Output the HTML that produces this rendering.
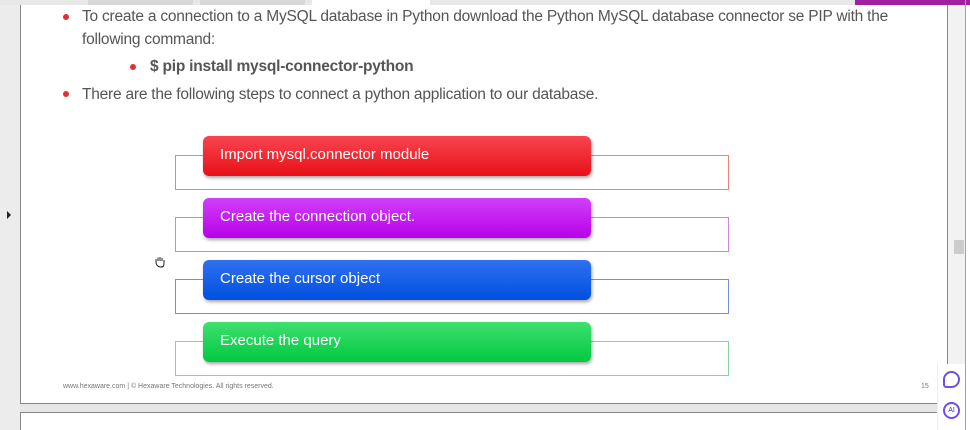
<!DOCTYPE html>
<html><head><meta charset="utf-8"><style>
*{margin:0;padding:0;box-sizing:border-box}
body{width:970px;height:430px;position:relative;overflow:hidden;background:#fff;font-family:"Liberation Sans",sans-serif}
.abs{position:absolute}
.t{color:#555;font-size:15.5px;letter-spacing:-0.22px;font-family:"Liberation Sans",sans-serif;white-space:nowrap}
.dot{position:absolute;width:6px;height:6px;border-radius:50%;background:#e03030}
.out{position:absolute;left:175px;width:554px;height:35px;border:1px solid}
.fill{position:absolute;left:203px;width:388px;height:40px;border-radius:6px;color:#fff;font-size:15px;padding:10px 0 0 17px;box-shadow:1px 2px 3px rgba(0,0,0,.35)}
</style></head><body>
<div class="abs" style="left:0;top:0;width:970px;height:5px;background:#e8e8e8"></div>
<div class="abs" style="left:88px;top:0;width:105px;height:5px;background:#d8d8d8"></div>
<div class="abs" style="left:200px;top:0;width:105px;height:5px;background:#d8d8d8"></div>
<div class="abs" style="left:312px;top:0;width:118px;height:5px;background:#fff"></div>
<div class="abs" style="left:855px;top:0;width:115px;height:5px;background:#a020a0"></div>
<div class="abs" style="left:0;top:5px;width:20px;height:425px;background:#ececec"></div>
<div class="abs" style="left:20px;top:5px;width:1px;height:398px;background:#888"></div>
<div class="abs" style="left:7px;top:211px;width:0;height:0;border-left:4px solid #222;border-top:4px solid transparent;border-bottom:4px solid transparent"></div>
<div class="abs" style="left:947px;top:5px;width:1px;height:398px;background:#888"></div>
<div class="abs" style="left:948px;top:5px;width:17px;height:425px;background:#f2f2f2"></div>
<div class="abs" style="left:954px;top:240px;width:10px;height:14px;background:#ccc"></div>
<div class="abs" style="left:965px;top:0;width:1px;height:430px;background:#f08080"></div>
<div class="abs" style="left:20px;top:403px;width:928px;height:10px;background:#e6e6e6;border-top:1px solid #888;border-bottom:1px solid #888"></div>
<div class="abs" style="left:20px;top:413px;width:1px;height:17px;background:#888"></div>

<div class="dot" style="left:63px;top:14px"></div>
<div class="abs t" style="left:82px;top:8px">To create a connection to a MySQL database in Python download the Python MySQL database connector se PIP with the</div>
<div class="abs t" style="left:82px;top:31px">following command:</div>
<div class="dot" style="left:130px;top:64px"></div>
<div class="abs t" style="left:150px;top:58px;font-weight:bold">$ pip install mysql-connector-python</div>
<div class="dot" style="left:63px;top:91px"></div>
<div class="abs t" style="left:82px;top:86px">There are the following steps to connect a python application to our database.</div>

<div class="out" style="top:155px;border-color:#f08080"></div>
<div class="fill" style="top:136px;background:linear-gradient(#f84550,#e81018)">Import mysql.connector module</div>
<div class="out" style="top:217px;border-color:#d080e0"></div>
<div class="fill" style="top:198px;background:linear-gradient(#d040f8,#b800e8)">Create the connection object.</div>
<div class="out" style="top:279px;border-color:#7090e0"></div>
<div class="fill" style="top:260px;background:linear-gradient(#3070f0,#0050e0)">Create the cursor object</div>
<div class="out" style="top:341px;border-color:#80d8a0"></div>
<div class="fill" style="top:322px;background:linear-gradient(#40e070,#00c840)">Execute the query</div>

<svg class="abs" style="left:153px;top:255px" width="14" height="14" viewBox="0 0 14 14"><path d="M3 7V4M5 6V2.5M7 6V2M9 6V3M11 7V5M3 7c0 3 2 5 5 5s3-2 3-5" fill="none" stroke="#222" stroke-width="1"/></svg>
<div class="abs" style="left:63px;top:383px;font-size:7px;color:#777">www.hexaware.com | © Hexaware Technologies. All rights reserved.</div>
<div class="abs" style="left:921px;top:383px;font-size:7px;color:#777">15</div>
<div class="abs" style="left:937px;top:364px;width:28px;height:66px;background:#fff;border-left:1px solid #eee"></div>
<div class="abs" style="left:943px;top:371px;width:17px;height:17px;border:2px solid #7050e0;border-radius:50% 50% 50% 20%"></div>
<div class="abs" style="left:943px;top:402px;width:17px;height:17px;border:2px solid #7050e0;border-radius:50%;font-size:7px;color:#3040c0;text-align:center;line-height:13px">AI</div>
</body></html>
